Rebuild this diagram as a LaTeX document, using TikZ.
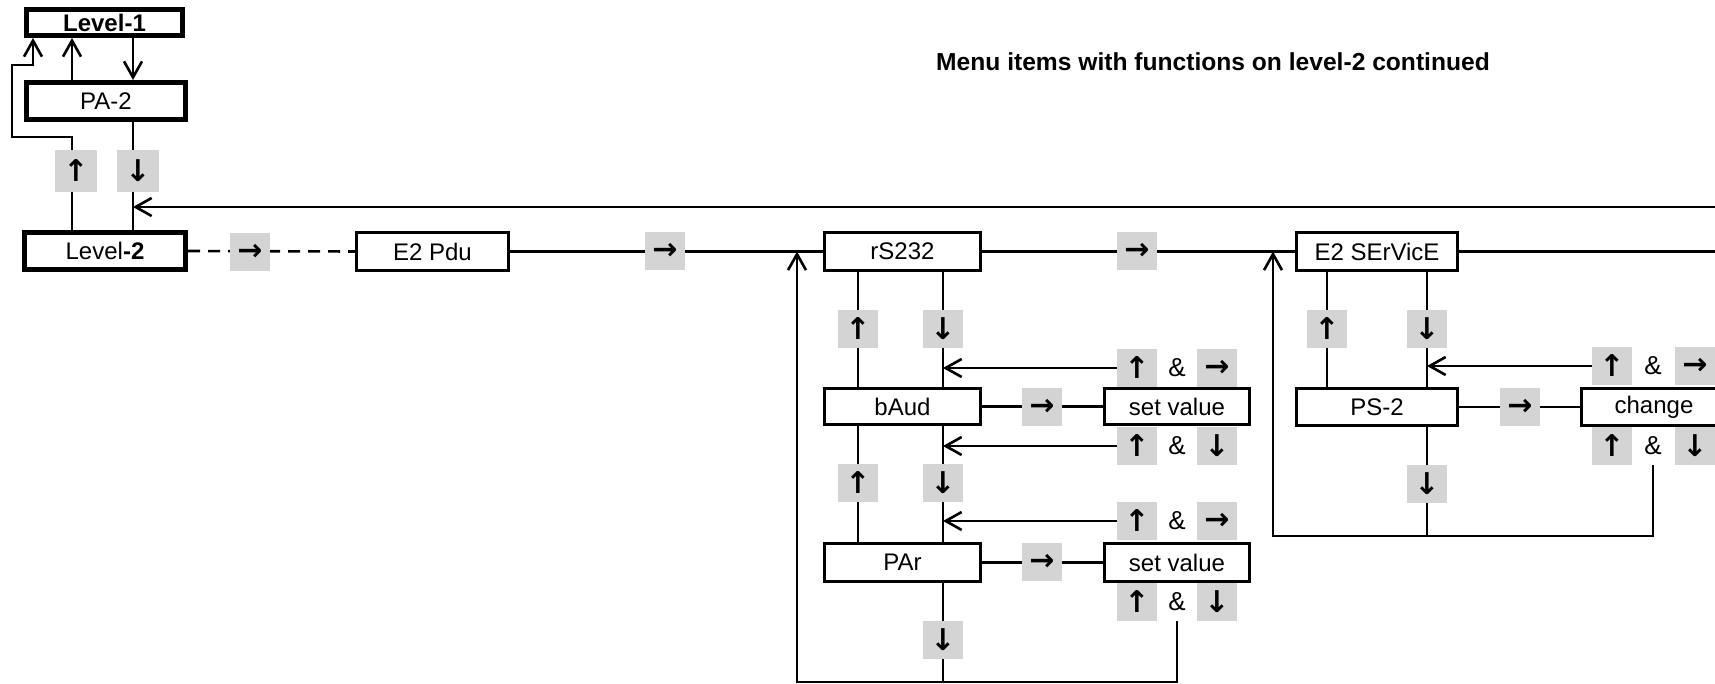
\documentclass[tikz,border=0pt]{standalone}
\usepackage{fontspec}
\setmainfont{Liberation Sans}
\newfontfamily\arrfont{DejaVu Sans}
\usetikzlibrary{arrows.meta}
\pgfdeclarelayer{bg}
\pgfsetlayers{bg,main}
\newcommand{\fsz}{\fontsize{24}{28}\selectfont}
\newcommand{\afsz}{\arrfont\fontsize{30}{30}\selectfont\bfseries}
\begin{document}
\begin{tikzpicture}[x=1pt,y=-1pt,
 box/.style={draw, fill=white, line width=3pt, inner sep=0pt, font=\fsz},
 lvl/.style={box, line width=5pt},
 shd/.style={fill=black!17, inner sep=0pt, minimum width=40pt, minimum height=38pt, font=\afsz},
 amp/.style={inner sep=0pt, minimum width=30pt, minimum height=38pt, font=\fontsize{26}{28}\selectfont},
 conn/.style={line width=2.6pt},
 tip/.style={-{Straight Barb[length=16pt,width=18pt]}},
]
\useasboundingbox (0,0) rectangle (1715,684);
\clip (0,0) rectangle (1715,684);

\node[font=\fontsize{24.6}{28}\selectfont\bfseries] (title) at (1213,62) {Menu items with functions on level-2 continued};

% level boxes
\node[lvl, minimum width=156pt, minimum height=26pt] (L1) at (104.5,22.5) {\textbf{Level-1}};
\node[lvl, minimum width=159pt, minimum height=37pt] (PA2) at (106,101) {PA-2};
\node[lvl, minimum width=161pt, minimum height=37pt] (L2) at (105,251) {Level\textbf{-2}};

% main boxes
\node[box, minimum width=152pt, minimum height=38pt] (E2) at (432.5,251.5) {E2 Pdu};
\node[box, minimum width=156pt, minimum height=38pt] (rS) at (902.5,251.5) {rS232};
\node[box, minimum width=161pt, minimum height=38pt] (ES) at (1377,251.5) {E2 SErVicE};
\node[box, minimum width=156pt, minimum height=36pt] (bAud) at (902.5,406.5) {bAud};
\node[box, minimum width=145pt, minimum height=36pt] (sv1) at (1177,406.5) {set value};
\node[box, minimum width=156pt, minimum height=38pt] (PAr) at (902.5,562.5) {PAr};
\node[box, minimum width=145pt, minimum height=38pt] (sv2) at (1177,562.5) {set value};
\node[box, minimum width=161pt, minimum height=37pt] (PS2) at (1377,407) {PS-2};
\node[box, minimum width=145pt, minimum height=37pt] (chg) at (1654,407) {change};

% shaded key boxes
\node[shd, minimum width=42pt, minimum height=42pt] (s1) at (76,171) {↑};
\node[shd, minimum width=42pt, minimum height=42pt] (s2) at (138,171) {↓};
\node[shd] (s3) at (250,252) {→};
\node[shd] (s4) at (665,251) {→};
\node[shd] (s5) at (1137,251) {→};
\node[shd] (u1) at (858,329) {↑};
\node[shd] (d1) at (943,329) {↓};
\node[shd] (g1a) at (1137,368) {↑};
\node[amp] (g1b) at (1177,368) {\&};
\node[shd] (g1c) at (1217,368) {→};
\node[shd] (s6) at (1042,407) {→};
\node[shd] (g2a) at (1137,446) {↑};
\node[amp] (g2b) at (1177,446) {\&};
\node[shd] (g2c) at (1217,446) {↓};
\node[shd] (u2) at (858,483) {↑};
\node[shd] (d2) at (943,483) {↓};
\node[shd] (g3a) at (1137,521) {↑};
\node[amp] (g3b) at (1177,521) {\&};
\node[shd] (g3c) at (1217,521) {→};
\node[shd] (s7) at (1042,562) {→};
\node[shd] (g4a) at (1137,602) {↑};
\node[amp] (g4b) at (1177,602) {\&};
\node[shd] (g4c) at (1217,602) {↓};
\node[shd] (d3) at (943,640) {↓};
\node[shd] (u3) at (1327,329) {↑};
\node[shd] (d4) at (1427,329) {↓};
\node[shd] (g5a) at (1612,366) {↑};
\node[amp] (g5b) at (1653,366) {\&};
\node[shd] (g5c) at (1695,366) {→};
\node[shd] (s8) at (1520,407) {→};
\node[shd] (g6a) at (1612,446) {↑};
\node[amp] (g6b) at (1653,446) {\&};
\node[shd] (g6c) at (1695,446) {↓};
\node[shd] (d5) at (1427,484) {↓};

% helper coordinates
\coordinate (xa) at (72,0);
\coordinate (xb) at (133,0);
\coordinate (c1) at (72,137);
\coordinate (c2) at (12,137);
\coordinate (c3) at (12,65);
\coordinate (c4) at (33,65);
\coordinate (ret) at (1715,207);
\coordinate (loopL) at (797,682);
\coordinate (loopR) at (1273,536);

\begin{pgfonlayer}{bg}
% level section
\draw[conn,tip] (PA2.north -| xa) -- (L1.south -| xa);
\draw[conn,tip] (L1.south -| xb) -- (PA2.north -| xb);
\draw[conn,tip] (L2.north -| xa) -- (c1) -- (c2) -- (c3) -- (c4) -- (L1.south -| c4);
\draw[conn] (PA2.south -| xb) -- (L2.north -| xb);
\draw[conn,tip] (ret) -- (ret -| xb);
% main row
\draw[conn, dash pattern=on 12pt off 8pt] (L2.east) -- (E2.west);
\draw[conn] (E2.east) -- (rS.west);
\draw[conn] (rS.east) -- (ES.west);
\draw[conn] (ES.east) -- (ES.east -| ret);
% rS232 column
\draw[conn] (bAud.north -| u1) -- (rS.south -| u1);
\draw[conn] (rS.south -| d1) -- (bAud.north -| d1);
\draw[conn,tip] (g1a.west) -- (g1a.west -| d1);
\draw[conn] (bAud.east) -- (sv1.west);
\draw[conn,tip] (g2a.west) -- (g2a.west -| d1);
\draw[conn] (PAr.north -| u2) -- (bAud.south -| u2);
\draw[conn] (bAud.south -| d2) -- (PAr.north -| d2);
\draw[conn,tip] (g3a.west) -- (g3a.west -| d2);
\draw[conn] (PAr.east) -- (sv2.west);
\draw[conn] (PAr.south -| d3) -- (d3 |- loopL);
\draw[conn,tip] (g4b.south) |- (loopL) -- (rS.west -| loopL);
% E2 SErVicE column
\draw[conn] (PS2.north -| u3) -- (ES.south -| u3);
\draw[conn] (ES.south -| d4) -- (PS2.north -| d4);
\draw[conn,tip] (g5a.west) -- (g5a.west -| d4);
\draw[conn] (PS2.east) -- (chg.west);
\draw[conn] (PS2.south -| d5) -- (d5 |- loopR);
\draw[conn,tip] (g6b.south) |- (loopR) -- (ES.west -| loopR);
\end{pgfonlayer}
\end{tikzpicture}
\end{document}
